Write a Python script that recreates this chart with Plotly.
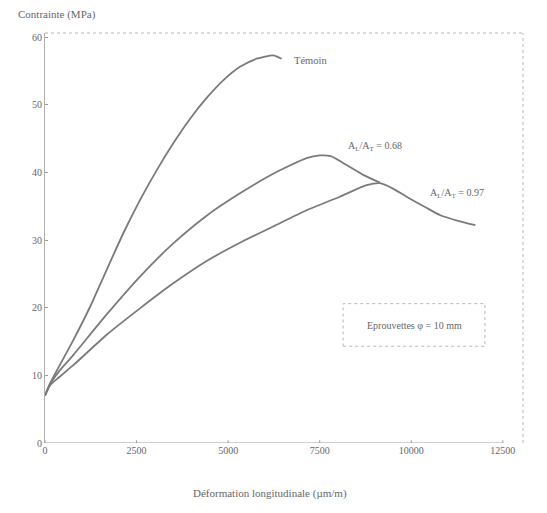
import plotly.graph_objects as go

# Data
temoin_x = [0, 136, 773, 1228, 1684, 2138, 2593, 3048, 3502, 3957, 4413, 4866, 5322, 5778, 6231, 6460]
temoin_y = [7.0, 8.8, 15.2, 20.1, 25.6, 31.0, 35.9, 40.3, 44.3, 47.9, 51.0, 53.6, 55.6, 56.8, 57.3, 56.8]

r068_x = [0, 150, 400, 773, 1684, 2593, 3502, 4413, 5322, 6231, 7140, 7500, 7800, 8200, 8700, 9143]
r068_y = [7.0, 8.8, 10.7, 13.0, 19.0, 24.6, 29.5, 33.6, 36.9, 39.8, 42.1, 42.5, 42.4, 41.2, 39.6, 38.5]

r097_x = [0, 150, 400, 773, 1684, 2593, 3502, 4413, 5322, 6231, 7140, 8050, 8780, 9143, 9500, 9871, 10400, 10780, 11300, 11750]
r097_y = [7.0, 8.6, 9.8, 11.5, 16.0, 19.9, 23.6, 26.9, 29.6, 32.0, 34.4, 36.4, 38.1, 38.4, 37.6, 36.4, 34.8, 33.7, 32.8, 32.2]

x_ticks = [0, 2500, 5000, 7500, 10000, 12500]
y_ticks = [0, 10, 20, 30, 40, 50, 60]

line_col = "#7a7a7a"
text_col = "#666666"
font_fam = "Liberation Serif, Times New Roman, serif"

fig = go.Figure()
for xs, ys in [(temoin_x, temoin_y), (r068_x, r068_y), (r097_x, r097_y)]:
    fig.add_trace(go.Scatter(x=xs, y=ys, mode="lines",
                             line=dict(color=line_col, width=1.8, shape="spline", smoothing=0.6),
                             showlegend=False, hoverinfo="skip"))

fig.update_layout(
    width=547, height=513,
    margin=dict(l=45, r=24, t=33, b=70),
    paper_bgcolor="white", plot_bgcolor="white",
    font=dict(family=font_fam, color=text_col, size=10),
    xaxis=dict(range=[0, 13050], tickvals=x_ticks, ticktext=[str(v) for v in x_ticks],
               showgrid=False, zeroline=False, showline=False,
               ticks="", tickfont=dict(size=10, color=text_col)),
    yaxis=dict(range=[0, 60.6], tickvals=y_ticks, showgrid=False, zeroline=False,
               showline=True, linecolor="#b0b0b0", linewidth=1,
               ticks="inside", ticklen=3, tickcolor="#999", tickfont=dict(size=10, color=text_col)),
)

# plot frame (top and right borders)
fig.add_shape(type="line", xref="paper", yref="paper", x0=0, x1=1, y0=1, y1=1,
              line=dict(color="#b8b8b8", width=1, dash="dot"))
fig.add_shape(type="line", xref="paper", yref="paper", x0=1, x1=1, y0=0, y1=1,
              line=dict(color="#b8b8b8", width=1, dash="dot"))
# x axis line with ticks up to 12500
fig.add_shape(type="line", xref="x", yref="y", x0=0, x1=12500, y0=0, y1=0,
              line=dict(color="#a0a0a0", width=1))
for v in x_ticks:
    fig.add_shape(type="line", xref="x", yref="y", x0=v, x1=v, y0=-0.4, y1=0.4,
                  line=dict(color="#999", width=1))

# curve labels
fig.add_annotation(x=6750, y=56.6, text="Témoin", showarrow=False, xanchor="left",
                   font=dict(size=10.5, color=text_col))
fig.add_annotation(x=8230, y=43.8, text="A<sub>L</sub>/A<sub>T</sub> = 0.68", showarrow=False,
                   xanchor="left", font=dict(size=10, color=text_col))
fig.add_annotation(x=10450, y=36.9, text="A<sub>L</sub>/A<sub>T</sub> = 0.97", showarrow=False,
                   xanchor="left", font=dict(size=10, color=text_col))

# boxed note
fig.add_shape(type="rect", xref="x", yref="y", x0=8140, x1=12010, y0=14.3, y1=20.6,
              line=dict(color="#b8b8b8", width=1, dash="dot"))
fig.add_annotation(x=10075, y=17.4, text="Eprouvettes φ = 10 mm", showarrow=False,
                   font=dict(size=10, color=text_col))

# axis titles
fig.add_annotation(xref="paper", yref="paper", x=-0.06, y=1.0, yshift=10,
                   text="Contrainte (MPa)", showarrow=False, xanchor="left", yanchor="bottom",
                   font=dict(size=11, color=text_col))
fig.add_annotation(xref="paper", yref="paper", x=0.47, y=0, yshift=-42,
                   text="Déformation longitudinale (µm/m)", showarrow=False,
                   xanchor="center", yanchor="top", font=dict(size=11, color=text_col))

fig.write_html("out.html")
